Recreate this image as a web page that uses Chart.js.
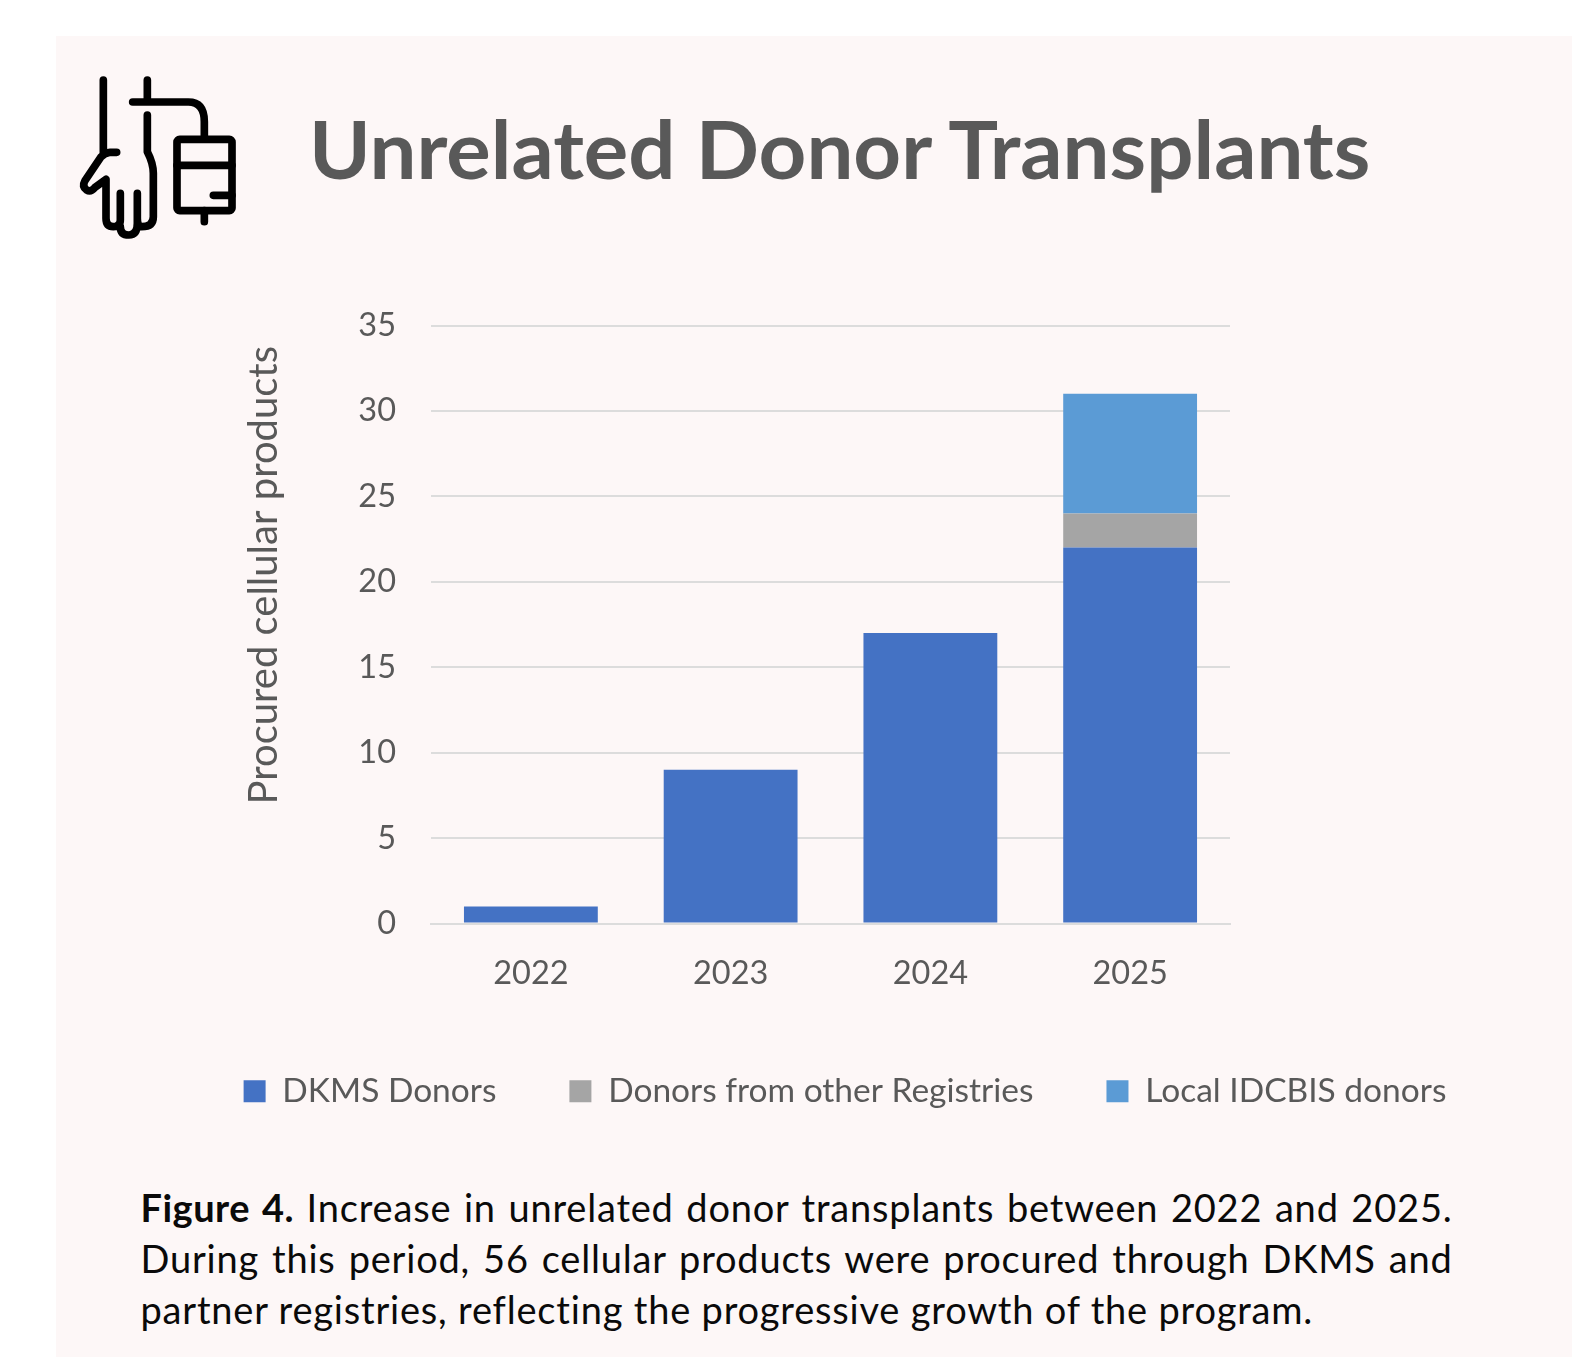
<!DOCTYPE html>
<html><head><meta charset="utf-8">
<style>
html,body{margin:0;padding:0;background:#fff;}
body{width:1572px;height:1357px;position:relative;overflow:hidden;font-family:Lato,sans-serif;}
#panel{position:absolute;left:56px;top:36px;right:0;bottom:0;background:#fdf7f7;}
#icon{position:absolute;left:60px;top:50px;width:220px;height:210px;}
#title{position:absolute;left:309px;top:98px;font-size:80px;font-weight:700;color:#595959;line-height:100px;white-space:nowrap;transform:scaleX(1.041);transform-origin:left center;}
#wrap{position:absolute;left:118px;top:271px;width:1454px;height:847px;}
#caption{position:absolute;left:140.5px;top:1182px;width:1312px;font-size:38px;line-height:51px;color:#0a0a0a;text-align:justify;letter-spacing:.8px;}
#caption b{letter-spacing:.5px;}
</style></head><body>
<div id="panel"></div>
<svg id="icon" viewBox="0 0 660 630" fill="none" stroke="#000" stroke-width="23" stroke-linecap="round" stroke-linejoin="round">
<path d="M130 90V315M170 307H150Q135 307 122 322L75 392Q65 410 80 420Q92 428 105 412L138 388V505Q138 530 160 530Q181 530 181 510V430M181 530Q181 555 207 555Q232 555 232 520V430M232 505Q232 530 245 530Q280 530 280 500V370Q280 340 262 305V195M262 90V145M218 156H385Q433 156 433 215V265"/>
<rect x="351" y="268" width="165" height="214" rx="8"/>
<path d="M351 346H516M460 436H516M433 482V515"/>
</svg>
<div id="title">Unrelated Donor Transplants</div>
<div id="wrap"><canvas id="c"></canvas></div>
<div id="caption"><b>Figure 4.</b> Increase in unrelated donor transplants between 2022 and 2025. During this period, 56 cellular products were procured through DKMS and partner registries, reflecting the progressive growth of the program.</div>
<script src="https://cdn.jsdelivr.net/npm/chart.js@4"></script>
<script>
const categories = ['2022','2023','2024','2025'];
const dkmsDonors = [1,9,17,22];
const otherRegistries = [0,0,0,2];
const localIdcbis = [0,0,0,7];
const yTicks = [0,5,10,15,20,25,30,35];
const ink = '#595959';
Chart.defaults.font.family = 'Lato';
new Chart(document.getElementById('c'),{
  type:'bar',
  data:{labels:categories,datasets:[
    {label:'DKMS Donors',data:dkmsDonors,backgroundColor:'#4472c4'},
    {label:'Donors from other Registries',data:otherRegistries,backgroundColor:'#a5a5a5'},
    {label:'Local IDCBIS donors',data:localIdcbis,backgroundColor:'#5b9bd5'}
  ]},
  options:{
    responsive:true,maintainAspectRatio:false,animation:false,
    layout:{padding:{top:27,right:0,left:0,bottom:0}},
    datasets:{bar:{barPercentage:0.67,categoryPercentage:1}},
    plugins:{
      tooltip:{enabled:false},
      legend:{position:'bottom',labels:{boxWidth:22,boxHeight:22,padding:73,color:ink,font:{size:33.5}}}
    },
    scales:{
      x:{stacked:true,
        grid:{display:false,drawTicks:false},
        border:{display:true,color:'#dcdcdc',width:2},
        ticks:{color:ink,font:{size:32.5},padding:31,maxRotation:0},
        afterFit(s){s.height=78;}
      },
      y:{stacked:true,min:0,max:35,
        afterBuildTicks(s){s.ticks=yTicks.map(v=>({value:v}));},
        grid:{color:'#dcdcdc',lineWidth:2,drawTicks:false},
        border:{display:false},
        ticks:{color:ink,font:{size:32.5},padding:35},
        title:{display:true,align:'end',text:'Procured cellular products  ',color:ink,font:{size:40},padding:{top:122,bottom:0}},
        afterFit(s){s.width=313;}
      },
      spacer:{axis:'y',position:'right',display:true,
        grid:{display:false,drawTicks:false},border:{display:false},ticks:{display:false},
        afterFit(s){s.width=342;}
      }
    }
  }
});
</script>
</body></html>
